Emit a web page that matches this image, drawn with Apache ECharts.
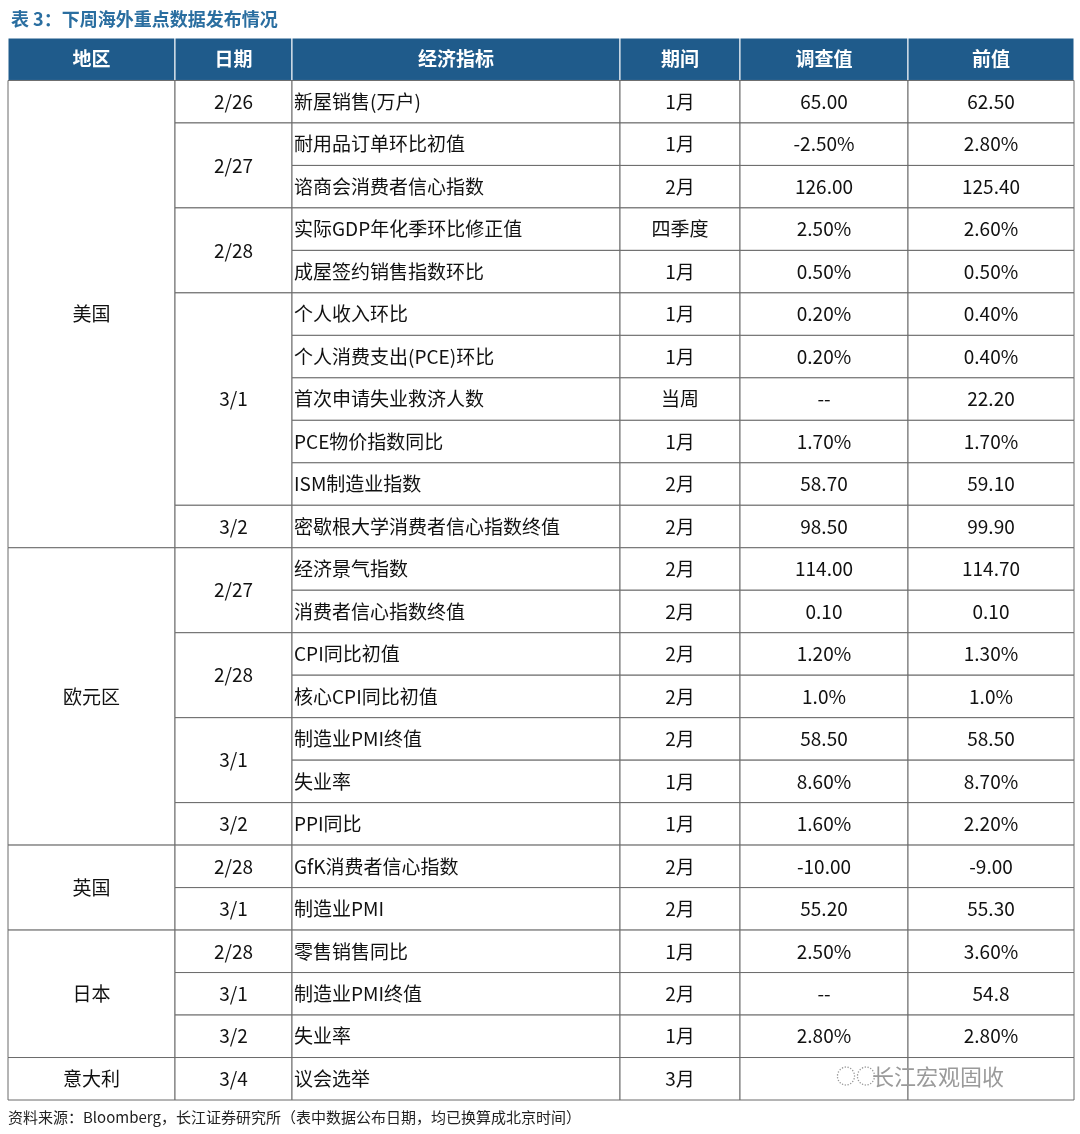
<!DOCTYPE html>
<html><head><meta charset="utf-8">
<script src="https://cdn.jsdelivr.net/npm/echarts@6/dist/echarts.min.js"></script>
<style>html,body{margin:0;background:#fff}#c{width:1080px;height:1134px}</style>
</head><body><div id="c"></div>
<script>
const headers = ['地区','日期','经济指标','期间','调查值','前值'];
const regions = ['美国','美国','美国','美国','美国','美国','美国','美国','美国','美国','美国',
 '欧元区','欧元区','欧元区','欧元区','欧元区','欧元区','欧元区','英国','英国','日本','日本','日本','意大利'];
const dates = ['2/26','2/27','2/27','2/28','2/28','3/1','3/1','3/1','3/1','3/1','3/2',
 '2/27','2/27','2/28','2/28','3/1','3/1','3/2','2/28','3/1','2/28','3/1','3/2','3/4'];
const indicators = ['新屋销售(万户)','耐用品订单环比初值','谘商会消费者信心指数','实际GDP年化季环比修正值','成屋签约销售指数环比',
 '个人收入环比','个人消费支出(PCE)环比','首次申请失业救济人数','PCE物价指数同比','ISM制造业指数','密歇根大学消费者信心指数终值',
 '经济景气指数','消费者信心指数终值','CPI同比初值','核心CPI同比初值','制造业PMI终值','失业率','PPI同比',
 'GfK消费者信心指数','制造业PMI','零售销售同比','制造业PMI终值','失业率','议会选举'];
const periods = ['1月','1月','2月','四季度','1月','1月','1月','当周','1月','2月','2月',
 '2月','2月','2月','2月','2月','1月','1月','2月','2月','1月','2月','1月','3月'];
const surveys = ['65.00','-2.50%','126.00','2.50%','0.50%','0.20%','0.20%','--','1.70%','58.70','98.50',
 '114.00','0.10','1.20%','1.0%','58.50','8.60%','1.60%','-10.00','55.20','2.50%','--','2.80%',''];
const prevs = ['62.50','2.80%','125.40','2.60%','0.50%','0.40%','0.40%','22.20','1.70%','59.10','99.90',
 '114.70','0.10','1.30%','1.0%','58.50','8.70%','2.20%','-9.00','55.30','3.60%','54.8','2.80%',''];

const colEdges = [0,167,284,612,732,900,1066];
const cells = []; const texts = [];
function add(col,row,span,t,kind){cells.push([col,row,span,texts.length,kind]);texts.push(t);}
headers.forEach((h,i)=>add(i,0,1,h,1));
function spans(keyFn,col,valFn){
  let i=0;while(i<regions.length){let j=i;while(j+1<regions.length&&keyFn(j+1)===keyFn(i))j++;
    add(col,i+1,j-i+1,valFn(i),0);i=j+1;}
}
spans(i=>regions[i],0,i=>regions[i]);
spans(i=>regions[i]+dates[i],1,i=>dates[i]);
[indicators,periods,surveys,prevs].forEach((arr,k)=>arr.forEach((v,i)=>add(k+2,i+1,1,v,k===0?2:0)));
const chart = echarts.init(document.getElementById('c'));
const FONT = '"Noto Sans CJK SC", "Liberation Sans", sans-serif';
chart.setOption({
  animation:false,
  title:{text:'表 3：下周海外重点数据发布情况',left:6,top:5,textStyle:{color:'#2a6ea0',fontSize:18,fontWeight:'bold',fontFamily:FONT}},
  grid:{left:8,right:6,top:38,bottom:34},
  xAxis:{type:'value',min:0,max:1066,show:false},
  yAxis:{type:'value',min:0,max:25,inverse:true,show:false},
  series:[{type:'custom',data:cells,clip:false,z:2,
    renderItem:(p,api)=>{
      const col=api.value(0),row=api.value(1),span=api.value(2),ti=api.value(3),kind=api.value(4);
      const a=api.coord([colEdges[col],row]),b=api.coord([colEdges[col+1],row+span]);
      const x=a[0],y=a[1],w=b[0]-a[0],h=b[1]-a[1];
      const t=texts[ti];
      return {type:'group',children:[
        {type:'rect',shape:{x,y,width:w,height:h},style:{fill:kind===1?'#1f5b8b':'#fff',stroke:kind===1?'#fff':'#6b6b6b',lineWidth:1}},
        {type:'text',style:{text:t,x:kind===2?x+2:x+w/2,y:y+h/2,align:kind===2?'left':'center',verticalAlign:'middle',
          fill:kind===1?'#fff':'#111',font:(kind===1?'bold ':'')+'19px '+FONT}}
      ]};
    }}],
  graphic:[
    {type:'text',left:8,top:1110,z:100,style:{text:'资料来源：Bloomberg，长江证券研究所（表中数据公布日期，均已换算成北京时间）',fill:'#222',font:'15px '+FONT}},
    {type:'text',left:872,top:1066,z:100,style:{text:'长江宏观固收',fill:'#9a9a9a',font:'22px '+FONT}},
    {type:'text',left:836,top:1066,z:100,style:{text:'◌◌',fill:'#9a9a9a',font:'20px '+FONT}}
  ]
});
</script></body></html>
